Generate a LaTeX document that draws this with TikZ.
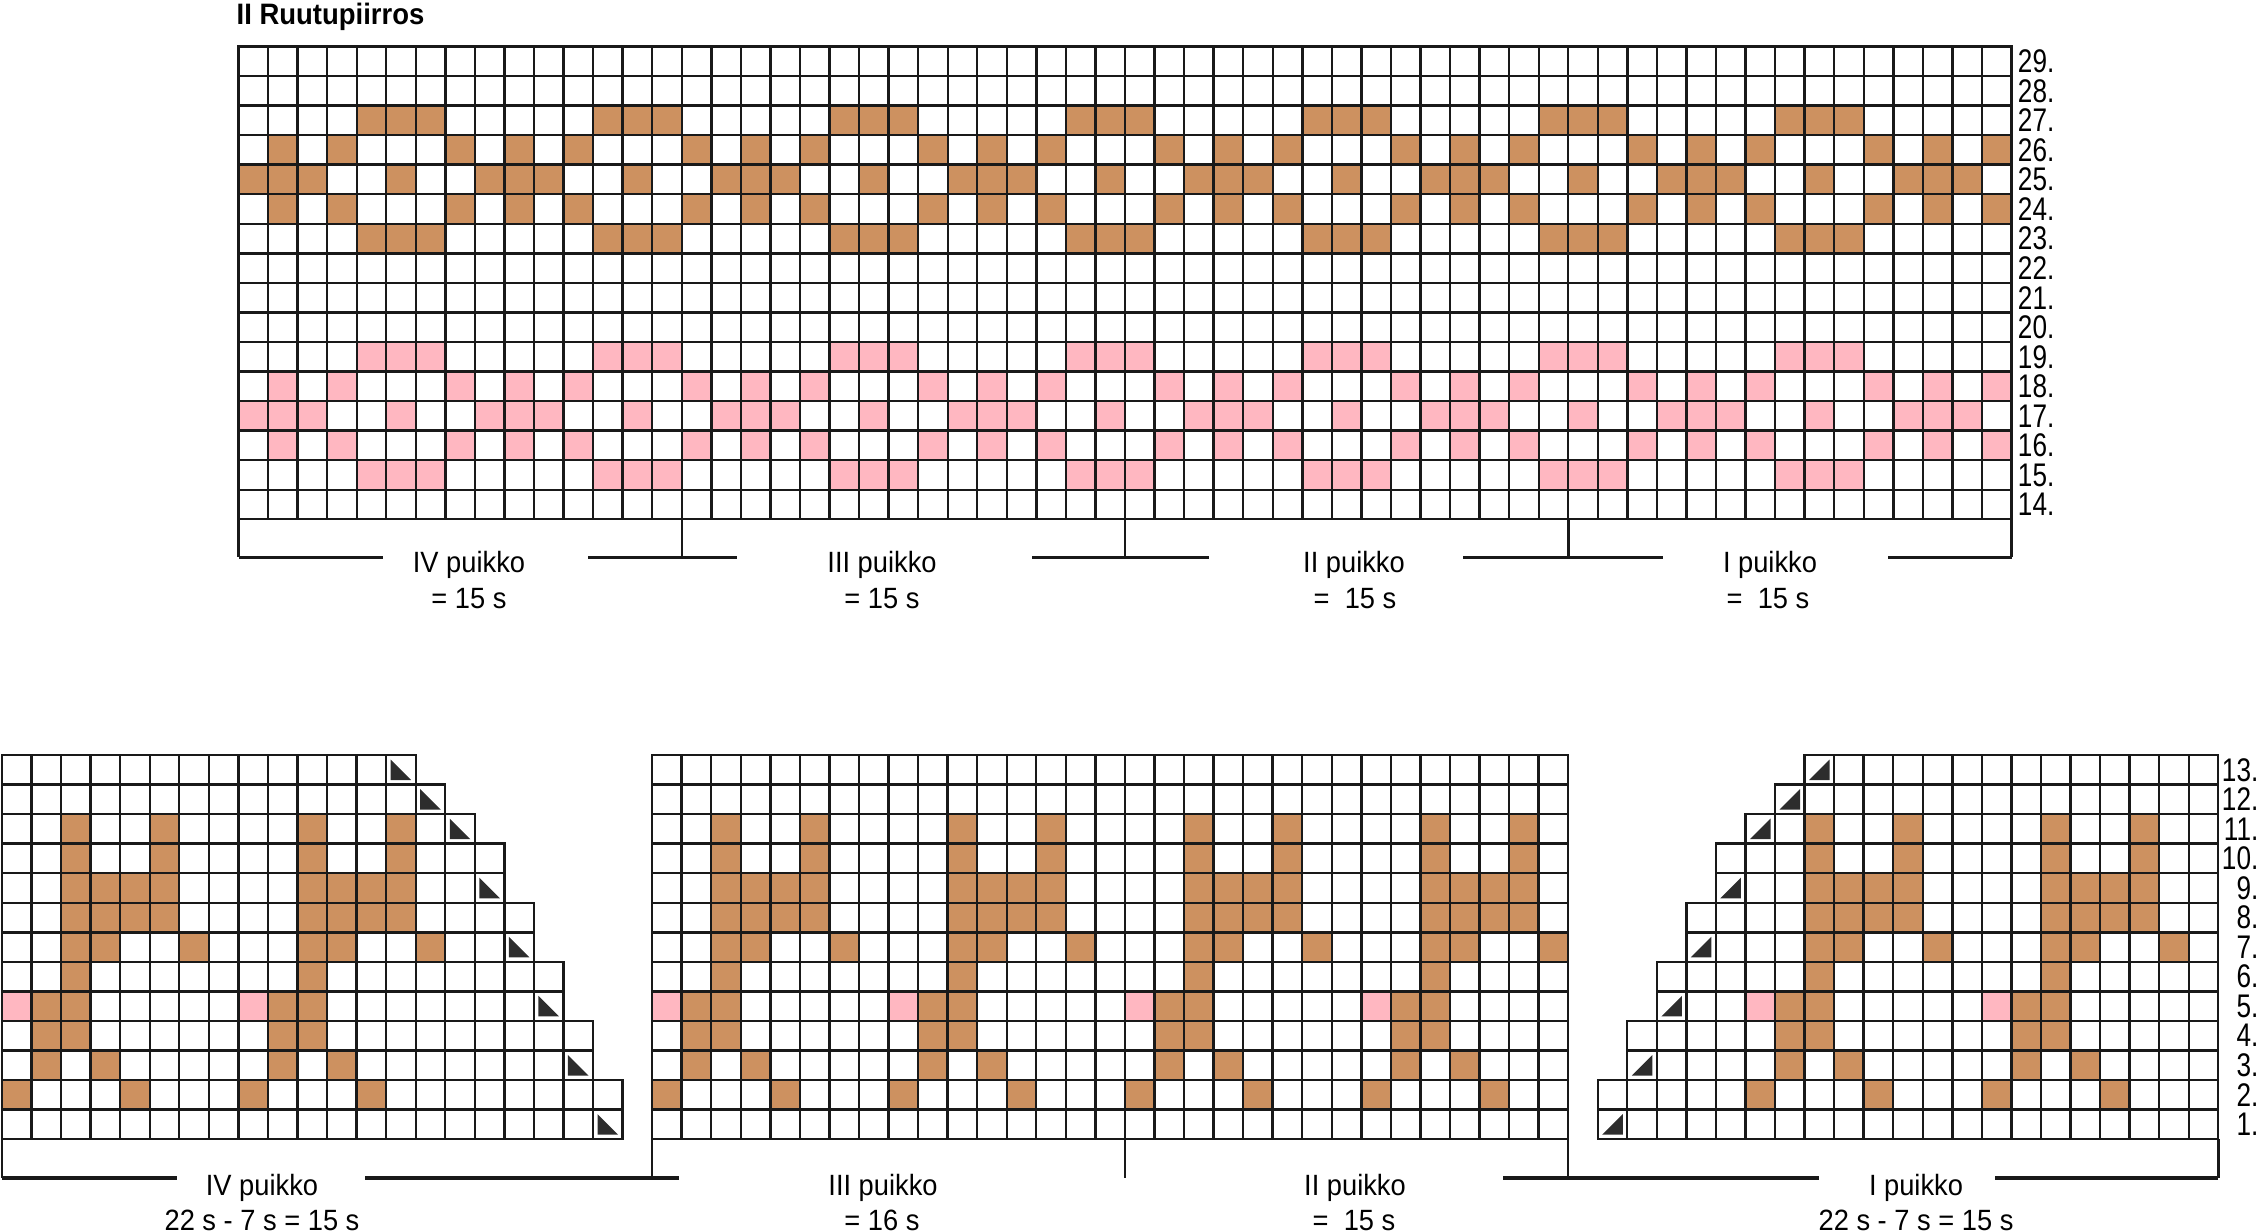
\documentclass[tikz,border=0pt]{standalone}
\usepackage{fontspec}
\setmainfont{Liberation Sans}
\newfontfamily\lblfont{Liberation Sans}[FakeStretch=0.93]
\newfontfamily\numfont{Liberation Sans}[FakeStretch=0.8]
\definecolor{knitbrown}{RGB}{205,145,96}
\definecolor{knitpink}{RGB}{255,183,193}
\definecolor{tridark}{RGB}{45,45,45}
\begin{document}
\begin{tikzpicture}[x=0.01cm,y=-0.01cm,
  gridline/.style={line width=0.68pt, draw=black!90},
  brk/.style={line width=0.7pt, draw=black!90},
  brkthick/.style={line width=0.95pt, draw=black!90},
  lbl/.style={inner sep=0pt, anchor=base, font=\lblfont\fontsize{8.34}{10}\selectfont},
  rownum/.style={inner sep=0pt, anchor=east, font=\numfont\fontsize{9.3}{10}\selectfont},
  ttl/.style={inner sep=0pt, anchor=base west, font=\lblfont\bfseries\fontsize{8.4}{10}\selectfont}
]
\useasboundingbox (0,0) rectangle (2261,1231);
\def\cs{29.55}
\def\tx{238.5}\def\ty{46.5}
\def\bx{2}\def\by{755}

% ---------- title ----------
\node[ttl] (title) at (236,25) {II Ruutupiirros};

% ---------- top chart fills ----------
\foreach \p in {0,...,7}{
  \foreach \o/\r in {4/27,5/27,6/27,1/26,3/26,7/26,0/25,1/25,2/25,5/25,1/24,3/24,7/24,4/23,5/23,6/23}{
    \pgfmathtruncatemacro\c{8*\p+\o}
    \ifnum\c<60
      \fill[knitbrown] ({\tx+\c*\cs},{\ty+(29-\r)*\cs}) rectangle ++(\cs,\cs);
      \fill[knitpink] ({\tx+\c*\cs},{\ty+(37-\r)*\cs}) rectangle ++(\cs,\cs);
    \fi
  }
}
% ---------- top chart grid ----------
\foreach \c in {0,...,60}
  \draw[gridline, line cap=rect] ({\tx+\c*\cs},\ty) -- ++(0,{16*\cs});
\foreach \r in {0,...,16}
  \draw[gridline, line cap=rect] (\tx,{\ty+\r*\cs}) -- ++({60*\cs},0);
% row numbers
\foreach \r in {14,...,29}
  \node[rownum] (tn\r) at (2055,{\ty+(29-\r+0.5)*\cs}) {\r.};

% ---------- top bracket ----------
\foreach \c in {0,15,30,45,60}
  \draw[brk] ({\tx+\c*\cs},{\ty+16*\cs}) -- ({\tx+\c*\cs},557.5);
\foreach \a/\b in {238.5/383,588/737,1032/1209,1463/1663,1888/2011.5}
  \draw[brkthick] (\a,557.5) -- (\b,557.5);
\node[lbl] (t4a) at (469,573) {IV puikko};
\node[lbl] (t4b) at (469,609) {= 15 s};
\node[lbl] (t3a) at (882,573) {III puikko};
\node[lbl] (t3b) at (882,609) {= 15 s};
\node[lbl] (t2a) at (1354,573) {II puikko};
\node[lbl] (t2b) at (1355,609) {=\ \ 15 s};
\node[lbl] (t1a) at (1770,573) {I puikko};
\node[lbl] (t1b) at (1768,609) {=\ \ 15 s};

% ---------- bottom chart fills ----------
\foreach \b in {0,8,22,30,38,46,59,67}{
  \foreach \o/\r in {0/2,4/2,1/3,3/3,1/4,2/4,1/5,2/5,2/6,2/7,3/7,6/7,2/8,3/8,4/8,5/8,2/9,3/9,4/9,5/9,2/10,5/10,2/11,5/11}{
    \fill[knitbrown] ({\bx+(\b+\o)*\cs},{\by+(13-\r)*\cs}) rectangle ++(\cs,\cs);
  }
  \fill[knitpink] ({\bx+\b*\cs},{\by+8*\cs}) rectangle ++(\cs,\cs);
}
% ---------- bottom chart grid ----------
\foreach \r/\w in {1/21,2/21,3/20,4/20,5/19,6/19,7/18,8/18,9/17,10/17,11/16,12/15,13/14}{
  \pgfmathsetmacro\yy{\by+(13-\r)*\cs}
  \pgfmathtruncatemacro\wl{\w-1}
  \pgfmathtruncatemacro\ws{75-\w}
  \foreach \c in {0,...,\wl}
    \draw[gridline] ({\bx+\c*\cs},\yy) rectangle ++(\cs,\cs);
  \foreach \c in {22,...,52}
    \draw[gridline] ({\bx+\c*\cs},\yy) rectangle ++(\cs,\cs);
  \foreach \c in {\ws,...,74}
    \draw[gridline] ({\bx+\c*\cs},\yy) rectangle ++(\cs,\cs);
}
% ---------- decrease triangles ----------
\foreach \r/\w in {1/21,3/20,5/19,7/18,9/17,11/16,12/15,13/14}{
  \pgfmathsetmacro\yy{\by+(13-\r)*\cs}
  \pgfmathsetmacro\xl{\bx+(\w-1)*\cs}
  \pgfmathsetmacro\xr{\bx+(75-\w)*\cs}
  \fill[tridark] ({\xl+4.5},{\yy+4.5}) -- ({\xl+4.5},{\yy+\cs-4.5}) -- ({\xl+\cs-4.5},{\yy+\cs-4.5}) -- cycle;
  \fill[tridark] ({\xr+\cs-4.5},{\yy+4.5}) -- ({\xr+\cs-4.5},{\yy+\cs-4.5}) -- ({\xr+4.5},{\yy+\cs-4.5}) -- cycle;
}
% row numbers
\foreach \r in {1,...,13}
  \node[rownum] (bn\r) at (2259,{\by+(13-\r+0.5)*\cs}) {\r.};

% ---------- bottom bracket ----------
\foreach \c in {0,22,38,53,75}
  \draw[brk] ({\bx+\c*\cs},{\by+13*\cs}) -- ({\bx+\c*\cs},1178);
\foreach \a/\b in {2/177,365/679,1503/1819,1995/2218.25}
  \draw[brkthick] (\a,1178) -- (\b,1178);
\node[lbl] (b4a) at (262,1195) {IV puikko};
\node[lbl] (b4b) at (262,1230) {22 s - 7 s = 15 s};
\node[lbl] (b3a) at (883,1195) {III puikko};
\node[lbl] (b3b) at (882,1230) {= 16 s};
\node[lbl] (b2a) at (1355,1195) {II puikko};
\node[lbl] (b2b) at (1354,1230) {=\ \ 15 s};
\node[lbl] (b1a) at (1916,1195) {I puikko};
\node[lbl] (b1b) at (1916,1230) {22 s - 7 s = 15 s};
\end{tikzpicture}
\end{document}
